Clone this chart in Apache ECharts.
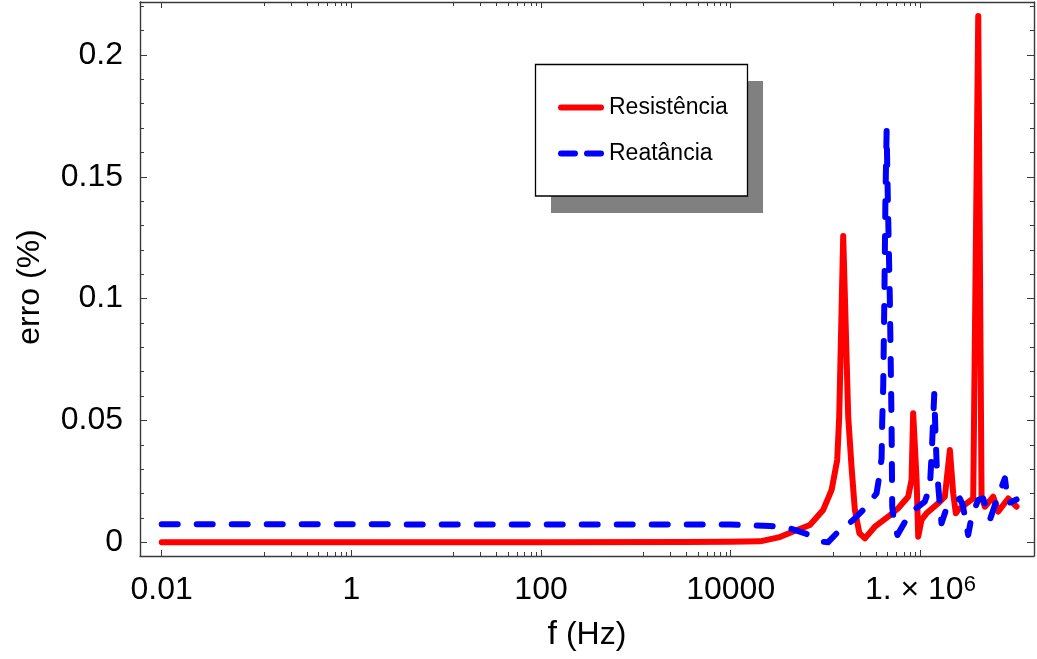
<!DOCTYPE html>
<html><head><meta charset="utf-8">
<script src="https://cdn.jsdelivr.net/npm/echarts@6/dist/echarts.min.js"></script>
<style>html,body{margin:0;padding:0;background:#fff}#c{width:1037px;height:659px}</style>
</head><body><div id="c"></div>
<script>
// ---- data (frequency in Hz, error in %) ----
const resistFreq = [0.01, 100, 3200, 1e4, 2.04e4, 3.2e4, 4.56e4, 6.84e4, 9.44e4, 1.159e5, 1.327e5, 1.393e5, 1.535e5, 1.734e5, 1.879e5, 2.037e5, 2.275e5, 2.6e5, 3.311e5, 4.571e5, 5.834e5, 7.43e5, 8.07e5, 8.395e5, 9.12e5, 9.484e5, 1.028e6, 1.161e6, 1.542e6, 1.811e6, 2.046e6, 2.218e6, 2.366e6, 2.506e6, 3.069e6, 3.606e6, 4.074e6, 4.416e6, 4.786e6, 5.861e6, 6.607e6, 8.433e6, 1.033e7];
const resistErr  = [0, 0, 0.0001, 0.0002, 0.0004, 0.002, 0.0044, 0.0071, 0.0133, 0.0215, 0.0338, 0.0515, 0.1257, 0.0515, 0.031, 0.0133, 0.0037, 0.0016, 0.0064, 0.0105, 0.014, 0.0187, 0.0256, 0.053, 0.0256, 0.0023, 0.0092, 0.0119, 0.016, 0.0187, 0.0379, 0.0201, 0.0119, 0.0133, 0.016, 0.018, 0.216, 0.0187, 0.0146, 0.0187, 0.0126, 0.018, 0.0146];
const reactFreq  = [0.01, 1e4, 2.594e4, 4.217e4, 6.067e4, 9.44e4, 1.059e5, 1.309e5, 1.959e5, 2.6e5, 3.451e5, 3.656e5, 3.9e5, 3.954e5, 4.055e5, 4.169e5, 4.276e5, 4.406e5, 4.54e5, 4.764e5, 4.966e5, 5.047e5, 5.297e5, 5.728e5, 7.745e5, 1.114e6, 1.259e6, 1.321e6, 1.4e6, 1.439e6, 1.493e6, 1.603e6, 1.671e6, 1.888e6, 2.606e6, 2.799e6, 3.192e6, 3.467e6, 4.064e6, 4.592e6, 5.023e6, 5.408e6, 6.109e6, 7.78e6, 8.433e6, 1.033e7];
const reactErr   = [0.0074, 0.0073, 0.0067, 0.0057, 0.0037, 0.0002, 0.0, 0.0037, 0.0092, 0.014, 0.0201, 0.0263, 0.0345, 0.049, 0.064, 0.0995, 0.14, 0.169, 0.14, 0.0995, 0.049, 0.0146, 0.0078, 0.003, 0.0119, 0.0167, 0.0228, 0.0379, 0.0609, 0.046, 0.0297, 0.0153, 0.0078, 0.014, 0.018, 0.0153, 0.003, 0.0105, 0.0174, 0.018, 0.0133, 0.0092, 0.0153, 0.0263, 0.016, 0.0176];
const seriesNames = ['Resistência', 'Reatância'];
const xTickExp    = [-2, 0, 2, 4, 6];
const xTickLabels = ['0.01', '1', '100', '10000', '{m|1. × 10}{s|6}'];
const yTickValues = [0, 0.05, 0.1, 0.15, 0.2];
const yTickLabels = ['0', '0.05', '0.1', '0.15', '0.2'];
const yTitle = 'erro (%)';

// ---- build ----
const lg = v => Math.log10(v);
const X_MIN = -2.229, X_MAX = 7.198, Y_MIN = -0.00562, Y_MAX = 0.22175;
const FONT = '"Liberation Sans", Arial, sans-serif';
const FRAME = '#3a3a3a';
const TICK_FS = 32;

// minor x ticks: 8 linear subdivisions between successive labelled ticks
const xMinor = [];
for (let i = 0; i < xTickExp.length - 1; i++) {
  const a = Math.pow(10, xTickExp[i]), b = Math.pow(10, xTickExp[i + 1]);
  for (let k = 1; k <= 8; k++) xMinor.push(lg(a + k * (b - a) / 9));
}
const yMinor = [];
for (let k = 1; k <= 22; k++) { if (k % 5) yMinor.push(k / 100); }

const gridBox = {left: 140, top: 2, width: 894, height: 554, containLabel: false, outerBoundsMode: 'none'};

function mkX(grid, pos, ticks, len, withLine, labels) {
  return {
    type: 'value', gridIndex: grid, position: pos, min: X_MIN, max: X_MAX,
    splitLine: {show: false},
    axisLine: {show: withLine, onZero: false, lineStyle: {color: FRAME, width: 1.4}},
    axisTick: {show: true, inside: true, length: len, customValues: ticks, lineStyle: {color: FRAME, width: 1}},
    axisLabel: labels ? {
      show: true, customValues: xTickExp, margin: 18, fontSize: TICK_FS, lineHeight: 32,
      fontFamily: FONT, color: '#000',
      formatter: v => xTickLabels[xTickExp.indexOf(Math.round(v))],
      rich: {
        m: {fontSize: TICK_FS, lineHeight: 32, fontFamily: FONT, color: '#000'},
        s: {fontSize: 22, lineHeight: 17, verticalAlign: 'top', fontFamily: FONT, color: '#000'}
      }
    } : {show: false},
    name: labels ? '{a|f} {b|(Hz)}' : '',
    nameLocation: 'middle', nameGap: 62,
    nameTextStyle: {fontSize: 32, fontFamily: FONT, color: '#000',
      rich: {a: {fontSize: 34, fontFamily: FONT, color: '#000'}, b: {fontSize: 32, fontFamily: FONT, color: '#000'}}}
  };
}
function mkY(grid, pos, ticks, len, withLine, labels) {
  return {
    type: 'value', gridIndex: grid, position: pos, min: Y_MIN, max: Y_MAX,
    splitLine: {show: false},
    axisLine: {show: withLine, onZero: false, lineStyle: {color: FRAME, width: 1.4}},
    axisTick: {show: true, inside: true, length: len, customValues: ticks, lineStyle: {color: FRAME, width: 1}},
    axisLabel: labels ? {
      show: true, customValues: yTickValues, margin: 17, fontSize: TICK_FS,
      fontFamily: FONT, color: '#000',
      formatter: v => yTickLabels[yTickValues.findIndex(t => Math.abs(t - v) < 1e-9)]
    } : {show: false}
  };
}

const chart = echarts.init(document.getElementById('c'), null, {renderer: 'canvas'});
chart.setOption({
  animation: false,
  backgroundColor: '#fff',
  grid: [Object.assign({}, gridBox), Object.assign({}, gridBox)],
  xAxis: [
    mkX(0, 'bottom', xTickExp, 6, true, true),
    mkX(0, 'top', xTickExp, 6, true, false),
    mkX(1, 'bottom', xMinor, 4, false, false),
    mkX(1, 'top', xMinor, 4, false, false)
  ],
  yAxis: [
    mkY(0, 'left', yTickValues, 7, true, true),
    mkY(0, 'right', yTickValues, 7, true, false),
    mkY(1, 'left', yMinor, 4, false, false),
    mkY(1, 'right', yMinor, 4, false, false)
  ],
  legend: {
    orient: 'vertical', left: 558, top: 96, padding: 0, z: 10,
    itemWidth: 40, itemHeight: 14, itemGap: 23, selectedMode: false,
    textStyle: {fontSize: 23, lineHeight: 23, fontFamily: FONT, color: '#000', padding: [0, 0, 0, 3]},
    data: [
      {name: seriesNames[0], itemStyle: {opacity: 0}, lineStyle: {width: 6, cap: 'round', color: '#ff0000'}},
      {name: seriesNames[1], itemStyle: {opacity: 0}, lineStyle: {width: 6, cap: 'round', type: [14, 12], color: '#0000ff'}}
    ]
  },
  graphic: [
    {type: 'rect', z: 5, shape: {x: 551, y: 81, width: 212, height: 132}, style: {fill: '#808080'}},
    {type: 'rect', z: 6, shape: {x: 535.5, y: 64.5, width: 212, height: 131.5}, style: {fill: '#fff', stroke: '#000', lineWidth: 1.3}},
    {type: 'text', z: 6, x: 30, y: 287, rotation: Math.PI / 2,
      style: {text: yTitle, fontSize: 32, fontFamily: FONT, fill: '#000', align: 'center', verticalAlign: 'middle'}}
  ],
  series: [
    {
      name: seriesNames[0], type: 'line', xAxisIndex: 0, yAxisIndex: 0,
      symbol: 'none', showSymbol: false, smooth: false,
      data: resistFreq.map((f, i) => [lg(f), resistErr[i]]),
      lineStyle: {color: '#ff0000', width: 6, cap: 'round', join: 'round'},
      itemStyle: {color: '#ff0000'}
    },
    {
      name: seriesNames[1], type: 'line', xAxisIndex: 0, yAxisIndex: 0,
      symbol: 'none', showSymbol: false, smooth: false,
      data: reactFreq.map((f, i) => [lg(f), reactErr[i]]),
      lineStyle: {color: '#0000ff', width: 6, cap: 'round', join: 'round', type: [16, 19]},
      itemStyle: {color: '#0000ff'}
    }
  ]
});
</script>
</body></html>
